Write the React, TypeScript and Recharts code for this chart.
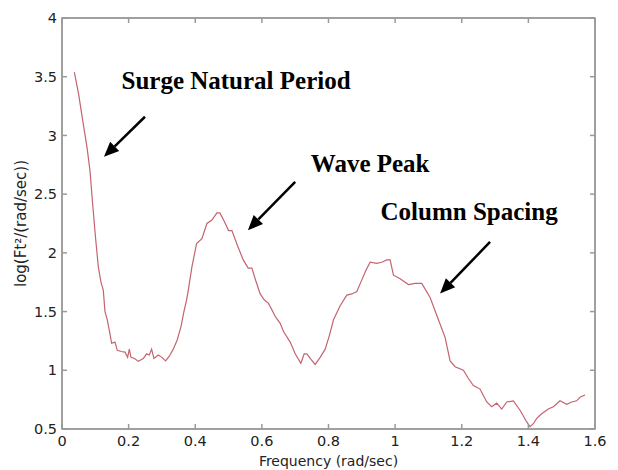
import {
  LineChart,
  Line,
  XAxis,
  YAxis,
  ReferenceLine,
  ReferenceDot,
  ReferenceArea,
  Label,
} from "recharts";

// frequency (rad/sec)
const freq = [
  0.037, 0.05, 0.062, 0.075, 0.084, 0.091, 0.1, 0.109, 0.117, 0.124, 0.129,
  0.136, 0.144, 0.149, 0.159, 0.166, 0.178, 0.189, 0.197, 0.202, 0.207, 0.218,
  0.229, 0.244, 0.254, 0.262, 0.269, 0.276, 0.289, 0.3, 0.311, 0.322, 0.334,
  0.346, 0.357, 0.366, 0.374, 0.379, 0.39, 0.404, 0.42, 0.435, 0.45, 0.465,
  0.474, 0.487, 0.5, 0.51, 0.527, 0.544, 0.559, 0.57, 0.582, 0.595, 0.607,
  0.62, 0.642, 0.655, 0.665, 0.685, 0.7, 0.717, 0.727, 0.735, 0.748, 0.76,
  0.775, 0.79, 0.803, 0.815, 0.835, 0.855, 0.87, 0.885, 0.9, 0.912, 0.925,
  0.945, 0.96, 0.975, 0.985, 0.995, 1.015, 1.04, 1.06, 1.08, 1.105, 1.13,
  1.15, 1.165, 1.18, 1.205, 1.22, 1.235, 1.255, 1.275, 1.29, 1.305, 1.32,
  1.335, 1.355, 1.375, 1.395, 1.405, 1.415, 1.425, 1.44, 1.46, 1.475, 1.495,
  1.515, 1.53, 1.545, 1.555, 1.57,
];

// log(Ft^2/(rad/sec))
const logFt = [
  3.54, 3.35, 3.13, 2.9, 2.7, 2.45, 2.15, 1.88, 1.75, 1.68, 1.5, 1.43, 1.31,
  1.23, 1.24, 1.17, 1.16, 1.155, 1.11, 1.18, 1.11, 1.1, 1.076, 1.1, 1.14,
  1.13, 1.18, 1.1, 1.13, 1.11, 1.08, 1.12, 1.18, 1.26, 1.37, 1.5, 1.6, 1.68,
  1.88, 2.08, 2.12, 2.25, 2.28, 2.34, 2.34, 2.27, 2.19, 2.19, 2.06, 1.94,
  1.87, 1.87, 1.76, 1.65, 1.6, 1.57, 1.45, 1.4, 1.33, 1.24, 1.14, 1.06, 1.14,
  1.14, 1.09, 1.05, 1.11, 1.18, 1.3, 1.43, 1.55, 1.64, 1.65, 1.67, 1.77,
  1.85, 1.92, 1.91, 1.92, 1.94, 1.94, 1.81, 1.78, 1.73, 1.74, 1.74, 1.62,
  1.43, 1.28, 1.08, 1.03, 1.0, 0.93, 0.87, 0.84, 0.73, 0.69, 0.72, 0.67,
  0.73, 0.74, 0.66, 0.56, 0.52, 0.545, 0.59, 0.63, 0.67, 0.69, 0.74, 0.71,
  0.73, 0.74, 0.77, 0.79,
];

const xTicks = [0, 0.2, 0.4, 0.6, 0.8, 1, 1.2, 1.4, 1.6];
const yTicks = [0.5, 1, 1.5, 2, 2.5, 3, 3.5, 4];
const X_MAX = 1.6;
const Y_MIN = 0.5;
const Y_MAX = 4;

// annotation text and arrows (in data coordinates)
const notes = [
  { text: "Surge Natural Period", x: 0.5225, y: 3.471 },
  { text: "Wave Peak", x: 0.925, y: 2.76 },
  { text: "Column Spacing", x: 1.222, y: 2.359 },
];
const arrows = [
  { from: { x: 0.249, y: 3.159 }, to: { x: 0.126, y: 2.818 } },
  { from: { x: 0.7, y: 2.605 }, to: { x: 0.558, y: 2.193 } },
  { from: { x: 1.285, y: 2.093 }, to: { x: 1.135, y: 1.653 } },
];

const data = freq.map((f, i) => ({ freq: f, value: logFt[i] }));

const W = 618;
const H = 470;
const M = { top: 18, right: 23, left: 0, bottom: 0 };
const X_AXIS_H = 41;
const PLOT_H = H - M.top - M.bottom - X_AXIS_H;

const AXIS = "#9a9a9a";
const tickStyle = { fontSize: 14.5, fill: "#222", fontFamily: "DejaVu Sans" };

function Arrow(props: any) {
  const { x1, y1, x2, y2 } = props;
  const a = Math.atan2(y2 - y1, x2 - x1);
  const len = 15;
  const half = 6.5;
  const bx = x2 - len * Math.cos(a);
  const by = y2 - len * Math.sin(a);
  const px = -Math.sin(a) * half;
  const py = Math.cos(a) * half;
  return (
    <g>
      <line x1={x1} y1={y1} x2={bx} y2={by} stroke="#000" strokeWidth={2.5} />
      <polygon
        points={`${x2},${y2} ${bx + px},${by + py} ${bx - px},${by - py}`}
        fill="#000"
      />
    </g>
  );
}

// top and right edges of the MATLAB-style box, with inward ticks,
// drawn from the x axis viewBox
function FrameBox({ viewBox }: any) {
  if (!viewBox) return null;
  const left = viewBox.x;
  const right = viewBox.x + viewBox.width;
  const bottom = viewBox.y;
  const top = bottom - PLOT_H;
  const px = (v: number) => left + (v / X_MAX) * (right - left);
  const py = (v: number) =>
    bottom - ((v - Y_MIN) / (Y_MAX - Y_MIN)) * (bottom - top);
  return (
    <g stroke={AXIS} strokeWidth={1.5} fill="none">
      <line x1={left} y1={top} x2={right} y2={top} />
      <line x1={right} y1={top} x2={right} y2={bottom} />
      {xTicks.map((t) => (
        <line key={`fx${t}`} x1={px(t)} y1={top} x2={px(t)} y2={top + 5} />
      ))}
      {yTicks.map((t) => (
        <line key={`fy${t}`} x1={right} y1={py(t)} x2={right - 5} y2={py(t)} />
      ))}
    </g>
  );
}

function YTitle({ viewBox }: any) {
  const cx = viewBox.x + 21;
  const cy = viewBox.y + viewBox.height / 2;
  return (
    <text
      x={cx}
      y={cy}
      transform={`rotate(-90, ${cx}, ${cy})`}
      textAnchor="middle"
      dominantBaseline="central"
      fontSize={15}
      fontFamily="DejaVu Sans"
      fill="#222"
    >
      log(Ft²/(rad/sec))
    </text>
  );
}

export default function App() {
  return (
    <div style={{ position: "absolute", left: 0, top: 0, background: "#fff" }}>
      <LineChart width={W} height={H} data={data} margin={M}>
        <XAxis
          dataKey="freq"
          type="number"
          domain={[0, X_MAX]}
          ticks={xTicks}
          height={X_AXIS_H}
          stroke={AXIS}
          strokeWidth={1.5}
          tickSize={-5}
          tickMargin={12}
          tick={tickStyle}
        >
          <Label
            value="Frequency (rad/sec)"
            position="insideBottom"
            offset={4}
            style={{ fontSize: 14, fill: "#222", fontFamily: "DejaVu Sans" }}
          />
          <Label content={<FrameBox />} />
        </XAxis>
        <YAxis
          type="number"
          domain={[Y_MIN, Y_MAX]}
          ticks={yTicks}
          width={62}
          stroke={AXIS}
          strokeWidth={1.5}
          tickSize={-5}
          tickMargin={10}
          tick={tickStyle}
        >
          <Label content={<YTitle />} />
        </YAxis>

        <ReferenceArea
          x1={0}
          x2={X_MAX}
          y1={Y_MIN}
          y2={Y_MAX}
          fill="none"
          fillOpacity={0}
          stroke={AXIS}
          strokeWidth={1.5}
          ifOverflow="visible"
        />

        <Line
          type="linear"
          dataKey="value"
          stroke="#c4646f"
          strokeWidth={1.2}
          dot={false}
          isAnimationActive={false}
        />
        {arrows.map((ar, i) => (
          <ReferenceLine
            key={`a${i}`}
            segment={[ar.from, ar.to]}
            shape={<Arrow />}
          />
        ))}
        {notes.map((n, i) => (
          <ReferenceDot
            key={`n${i}`}
            x={n.x}
            y={n.y}
            r={0}
            shape={() => <g />}
            label={{
              value: n.text,
              position: "center",
              fontSize: 25,
              fontWeight: "bold",
              fontFamily: "Liberation Serif",
              fill: "#000",
            }}
          />
        ))}
      </LineChart>
    </div>
  );
}
